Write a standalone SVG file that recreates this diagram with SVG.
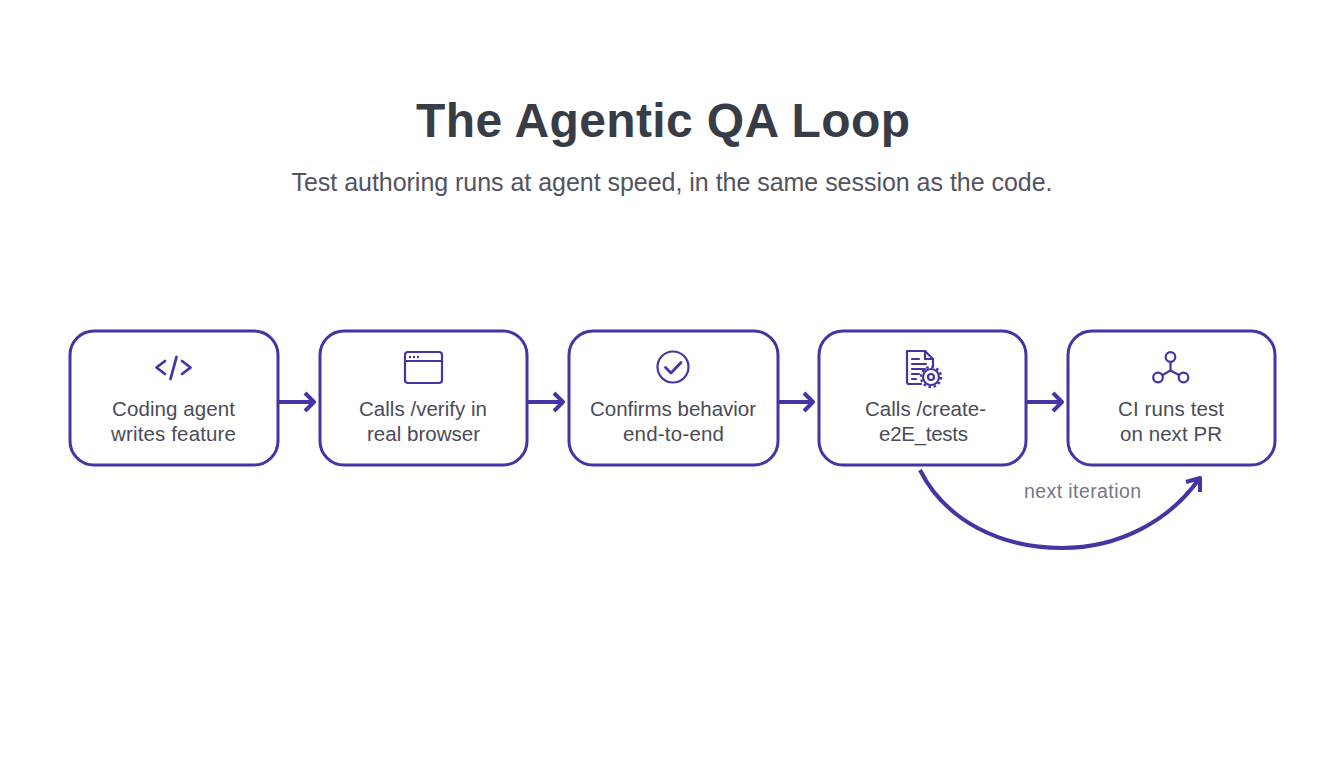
<svg xmlns="http://www.w3.org/2000/svg" width="1344" height="768" viewBox="0 0 1344 768">
<style>
text{font-family:"Liberation Sans",Arial,sans-serif;text-anchor:middle}
.box{fill:#fff;stroke:#4733a3;stroke-width:3}
.lbl{font-size:20.500px;fill:#4a4b57}
.ic{fill:none;stroke:#4733a3;stroke-width:2.200;stroke-linecap:round;stroke-linejoin:round}
.ict{fill:none;stroke:#4733a3;stroke-width:2.800;stroke-linecap:round;stroke-linejoin:round}
.c{fill:none;stroke:#4733a3;stroke-width:4;stroke-linejoin:round}
</style>
<rect width="1344" height="768" fill="#fff"/>
<text id="title" x="663" y="137" font-size="48" font-weight="700" fill="#383c47" textLength="494">The Agentic QA Loop</text>
<text id="subtitle" x="672" y="191" font-size="25" fill="#53535f" textLength="761">Test authoring runs at agent speed, in the same session as the code.</text>
<g id="connectors">
<path class="c" d="M278 402H313M305 393L314 402L305 411"/>
<path class="c" d="M527 402H562M554 393L563 402L554 411"/>
<path class="c" d="M778 402H812M804 393L813 402L804 411"/>
<path class="c" d="M1026 402H1061M1053 393L1062 402L1053 411"/>
<path class="c" d="M920 470C945 520 1000 548 1062 548C1120 548 1170 520 1199 479M1186 482L1200 478L1200 492"/>
</g>
<g id="node1"><rect class="box" x="70" y="331" width="208" height="134" rx="24"/>
<path class="ict" d="M165 361L156.500 367.500L165 374M182 361L190.500 367.500L182 374M176.500 357L170.500 379"/>
<text class="lbl" x="173.500" y="416" textLength="123">Coding agent</text><text class="lbl" x="173.500" y="441" textLength="125">writes feature</text></g>
<g id="node2"><rect class="box" x="320" y="331" width="207" height="134" rx="24"/>
<rect class="ic" x="405" y="352" width="37" height="31" rx="3"/><path class="ic" d="M405 361H442"/>
<circle cx="410" cy="357" r="1.200" fill="#4733a3"/><circle cx="414" cy="357" r="1.200" fill="#4733a3"/><circle cx="418" cy="357" r="1.200" fill="#4733a3"/>
<text class="lbl" x="423" y="416" textLength="128">Calls /verify in</text><text class="lbl" x="423.500" y="441" textLength="113">real browser</text></g>
<g id="node3"><rect class="box" x="569" y="331" width="209" height="134" rx="24"/>
<circle class="ic" cx="673" cy="367" r="15.500"/><path class="ict" d="M665.500 367.500L671 373L681 362.500"/>
<text class="lbl" x="673" y="416" textLength="166">Confirms behavior</text><text class="lbl" x="673.500" y="441" textLength="101">end-to-end</text></g>
<g id="node4"><rect class="box" x="819" y="331" width="207" height="134" rx="24"/>
<path class="ic" d="M921 384H909Q907 384 907 382V351H925L933 359V366"/><path class="ic" d="M925 351V359H933"/>
<path class="ic" d="M912 359H919M912 364H926M912 369H925M912 374H919M912 379H916"/>
<circle class="ic" cx="931" cy="377" r="3"/><circle cx="931" cy="377" r="8" fill="none" stroke="#4733a3" stroke-width="2.200"/><circle cx="931" cy="377" r="10" fill="none" stroke="#4733a3" stroke-width="2.400" stroke-dasharray="2.500 2.740"/>
<text class="lbl" x="925.500" y="416" textLength="121">Calls /create-</text><text class="lbl" x="923.500" y="441" textLength="89">e2E_tests</text></g>
<g id="node5"><rect class="box" x="1068" y="331" width="207" height="134" rx="24"/>
<circle class="ic" cx="1170.500" cy="357" r="4.800"/><circle class="ic" cx="1158" cy="377.500" r="4.800"/><circle class="ic" cx="1183.500" cy="377.500" r="4.800"/>
<path class="ic" d="M1170.500 362V370.500M1170.500 370.500L1162.500 375M1170.500 370.500L1179 375"/>
<text class="lbl" x="1171" y="416" textLength="106">CI runs test</text><text class="lbl" x="1171" y="441" textLength="102">on next PR</text></g>
<text id="edge-label" x="1082.500" y="498" font-size="19.500" fill="#77777f" textLength="117">next iteration</text>
</svg>
